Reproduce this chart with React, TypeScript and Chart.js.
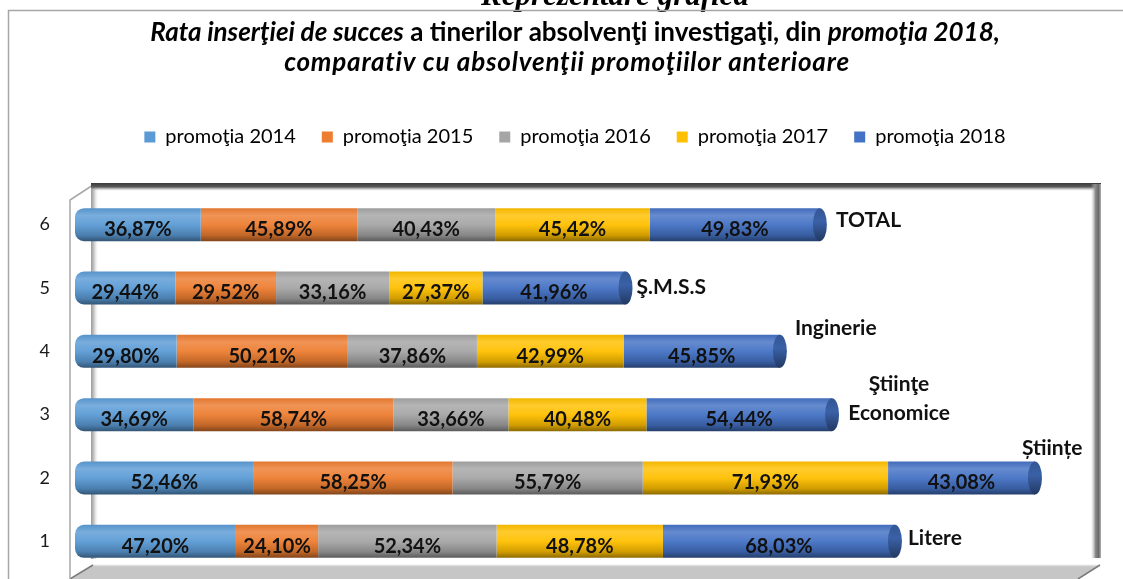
import { useEffect, useRef } from 'react';
import { Chart, registerables } from 'chart.js';

Chart.register(...registerables);

// ---------- data ----------
const categories = ['1', '2', '3', '4', '5', '6'];
const seriesNames = ['promoţia 2014', 'promoţia 2015', 'promoţia 2016', 'promoţia 2017', 'promoţia 2018'];
const p2014 = [47.2, 52.46, 34.69, 29.8, 29.44, 36.87];
const p2015 = [24.1, 58.25, 58.74, 50.21, 29.52, 45.89];
const p2016 = [52.34, 55.79, 33.66, 37.86, 33.16, 40.43];
const p2017 = [48.78, 71.93, 40.48, 42.99, 27.37, 45.42];
const p2018 = [68.03, 43.08, 54.44, 45.85, 41.96, 49.83];
const groupLabels = [['Litere'], ['Științe'], ['Ştiinţe', 'Economice'], ['Inginerie'], ['Ş.M.S.S'], ['TOTAL']];
const xMin = 0;
const xMax = 300;

// ---------- styles ----------
const colors = ['#5B9BD5', '#ED7D31', '#A5A5A5', '#FFC000', '#4472C4'];
const groupLabelPlacement = [
  { dx: 13, dy: -3, align: 'left' },
  { dx: -13, dy: -30, align: 'left' },
  { dx: 67, dy: -30, align: 'center' },
  { dx: 15, dy: -23, align: 'left' },
  { dx: 11, dy: -1, align: 'left' },
  { dx: 16, dy: -4, align: 'left' },
];
const BAR_PCT = 0.52;
const FONT = 'Lato, "Open Sans", sans-serif';

function hexToRgb(hex: string) {
  const h = hex.replace('#', '');
  return [parseInt(h.slice(0, 2), 16), parseInt(h.slice(2, 4), 16), parseInt(h.slice(4, 6), 16)];
}
function shade(hex: string, f: number) {
  const [r, g, b] = hexToRgb(hex);
  const m = (c: number) => Math.round(f >= 0 ? c + (255 - c) * f : c * (1 + f));
  return `rgb(${m(r)},${m(g)},${m(b)})`;
}
function cylGradient(c: CanvasRenderingContext2D, base: string, top: number, bottom: number) {
  const g = c.createLinearGradient(0, top, 0, bottom);
  g.addColorStop(0, shade(base, -0.05));
  g.addColorStop(0.22, shade(base, 0.18));
  g.addColorStop(0.5, shade(base, 0.05));
  g.addColorStop(0.82, shade(base, -0.18));
  g.addColorStop(1, shade(base, -0.45));
  return g;
}
const cylinder = (base: string) => (ctx: any) => {
  const chart = ctx.chart;
  if (!chart.chartArea || ctx.type !== 'data') return base;
  const ys = chart.scales.y;
  const yc = ys.getPixelForValue(ctx.dataIndex);
  const half = (ys.height / categories.length) * BAR_PCT / 2;
  return cylGradient(chart.ctx, base, yc - half, yc + half);
};

const fmt = (v: number) => v.toFixed(2).replace('.', ',') + '%';

// ---------- plugins ----------
const framePlugin = {
  id: 'frame',
  afterLayout(chart: any) {
    // centre the legend row on the chart title axis
    if (chart.legend) chart.legend.left += 44;
  },
  beforeDraw(chart: any) {
    const { ctx, chartArea: a, width, height } = chart;
    ctx.save();
    ctx.fillStyle = '#ffffff';
    ctx.fillRect(0, 0, width, height);

    // document heading (cut off at top)
    ctx.fillStyle = '#000';
    ctx.font = 'italic bold 31px "Liberation Serif", "DejaVu Serif", serif';
    ctx.textAlign = 'center';
    ctx.textBaseline = 'alphabetic';
    ctx.fillText('Reprezentare grafică', 615, 5);

    // outer chart border
    ctx.strokeStyle = '#a6a6a6';
    ctx.lineWidth = 1.5;
    ctx.beginPath();
    ctx.moveTo(8.5, height);
    ctx.lineTo(8.5, 10.5);
    ctx.lineTo(width, 10.5);
    ctx.stroke();

    const fl = a.left - 5;
    const bl = a.left + 18;
    const bt = a.top - 8;
    const ft = a.top + 7;
    const br = a.right - 1;
    const fb = height;
    const bb = a.bottom - 8;
    const fr = a.right - 20;

    // floor
    ctx.fillStyle = '#c6c6c6';
    ctx.beginPath();
    ctx.moveTo(bl, bb);
    ctx.lineTo(br + 3, bb);
    ctx.lineTo(fr, fb);
    ctx.lineTo(fl, fb);
    ctx.closePath();
    ctx.fill();
    ctx.strokeStyle = '#dedede';
    ctx.lineWidth = 1.5;
    ctx.beginPath();
    ctx.moveTo(bl, bb + 0.5);
    ctx.lineTo(br + 3, bb + 0.5);
    ctx.stroke();
    ctx.strokeStyle = '#7a7a7a';
    ctx.lineWidth = 1.5;
    ctx.beginPath();
    ctx.moveTo(fl, fb);
    ctx.lineTo(bl, bb);
    ctx.moveTo(br + 3, bb);
    ctx.lineTo(fr, fb);
    ctx.stroke();

    // left wall
    ctx.strokeStyle = '#a8a8a8';
    ctx.lineWidth = 1.5;
    ctx.beginPath();
    ctx.moveTo(fl, fb);
    ctx.lineTo(fl, ft);
    ctx.lineTo(bl, bt);
    ctx.stroke();

    // back wall left edge
    const gl = ctx.createLinearGradient(bl - 2, 0, bl + 5, 0);
    gl.addColorStop(0, '#9a9a9a');
    gl.addColorStop(0.4, '#c4c4c4');
    gl.addColorStop(1, 'rgba(230,230,230,0)');
    ctx.fillStyle = gl;
    ctx.fillRect(bl - 2, bt, 7, bb - 6 - bt);

    // back wall top edge
    const gt = ctx.createLinearGradient(0, bt - 2, 0, bt + 6);
    gt.addColorStop(0, '#3a3a3a');
    gt.addColorStop(0.5, '#5a5a5a');
    gt.addColorStop(1, 'rgba(200,200,200,0)');
    ctx.fillStyle = gt;
    ctx.fillRect(bl - 2, bt - 2, br - bl + 6, 8);

    // back wall right edge
    const gr = ctx.createLinearGradient(br - 6, 0, br + 4, 0);
    gr.addColorStop(0, 'rgba(200,200,200,0)');
    gr.addColorStop(0.45, '#8a8a8a');
    gr.addColorStop(0.75, '#6a6a6a');
    gr.addColorStop(1, '#b0b0b0');
    ctx.fillStyle = gr;
    ctx.fillRect(br - 6, bt - 1, 10, bb - 6 - bt);
    ctx.restore();
  },
};

const titlePlugin = {
  id: 'richTitle',
  afterDraw(chart: any) {
    const { ctx } = chart;
    const lines = [
      {
        cx: 575,
        y: 33,
        spacing: 0,
        segs: [
          { t: 'Rata inserţiei de succes', f: 'italic bold' },
          { t: ' a tinerilor absolvenţi investigaţi, din ', f: 'bold' },
          { t: 'promoţia 2018,', f: 'italic bold' },
        ],
      },
      {
        cx: 567,
        y: 63,
        spacing: 0.8,
        segs: [{ t: 'comparativ cu absolvenţii promoţiilor anterioare', f: 'italic bold' }],
      },
    ];
    ctx.save();
    ctx.fillStyle = '#000';
    ctx.textBaseline = 'middle';
    ctx.textAlign = 'left';
    lines.forEach((line) => {
      (ctx as any).letterSpacing = `${line.spacing}px`;
      let total = 0;
      line.segs.forEach((s) => {
        ctx.font = `${s.f} 26px ${FONT}`;
        total += ctx.measureText(s.t).width;
      });
      let x = line.cx - total / 2;
      line.segs.forEach((s) => {
        ctx.font = `${s.f} 26px ${FONT}`;
        ctx.fillText(s.t, x, line.y);
        x += ctx.measureText(s.t).width;
      });
    });
    (ctx as any).letterSpacing = '0px';
    ctx.restore();
  },
};

const barDecorPlugin = {
  id: 'barDecor',
  afterDatasetsDraw(chart: any) {
    const { ctx } = chart;
    const n = chart.data.datasets.length;
    ctx.save();
    // end caps of the cylinders
    const last = chart.getDatasetMeta(n - 1);
    last.data.forEach((el: any) => {
      const h = el.height / 2;
      const g = ctx.createLinearGradient(0, el.y - h, 0, el.y + h);
      g.addColorStop(0, shade(colors[n - 1], -0.25));
      g.addColorStop(0.4, shade(colors[n - 1], -0.15));
      g.addColorStop(1, shade(colors[n - 1], -0.5));
      ctx.fillStyle = g;
      ctx.beginPath();
      ctx.ellipse(el.x, el.y, 7, h, 0, 0, Math.PI * 2);
      ctx.fill();
    });
    // value labels
    ctx.fillStyle = '#111';
    ctx.font = `bold 20px ${FONT}`;
    ctx.textAlign = 'center';
    ctx.textBaseline = 'middle';
    chart.data.datasets.forEach((ds: any, di: number) => {
      const meta = chart.getDatasetMeta(di);
      meta.data.forEach((el: any, i: number) => {
        ctx.fillText(fmt(ds.data[i]), (el.x + el.base) / 2, el.y + 5);
      });
    });
    // group labels at the end of each stack
    ctx.font = `bold 21px ${FONT}`;
    last.data.forEach((el: any, i: number) => {
      const p = groupLabelPlacement[i];
      ctx.textAlign = p.align;
      groupLabels[i].forEach((line, li) => {
        ctx.fillText(line, el.x + p.dx, el.y + p.dy + li * 29);
      });
    });
    ctx.restore();
  },
};

const seriesData = [p2014, p2015, p2016, p2017, p2018];

export default function App() {
  const ref = useRef<HTMLCanvasElement | null>(null);
  useEffect(() => {
    document.body.style.margin = '0';
    const canvas = ref.current;
    if (!canvas) return;
    const chart = new Chart(canvas, {
      type: 'bar',
      data: {
        labels: categories,
        datasets: seriesData.map((d, i) => ({
          label: seriesNames[i],
          data: d,
          backgroundColor: cylinder(colors[i]),
          borderWidth: 0,
          borderSkipped: i === 0 ? false : 'start',
          borderRadius: i === 0 ? { topLeft: 9, bottomLeft: 9, topRight: 0, bottomRight: 0 } : 0,
          barPercentage: BAR_PCT,
          categoryPercentage: 1,
        })),
      },
      options: {
        indexAxis: 'y',
        animation: false,
        responsive: true,
        maintainAspectRatio: false,
        layout: { padding: { top: 101, left: 8, right: 25, bottom: 6 } },
        scales: {
          x: {
            type: 'linear',
            position: 'top',
            stacked: true,
            min: xMin,
            max: xMax,
            grid: { display: false, drawTicks: false },
            border: { display: false },
            ticks: { display: false },
            afterFit: (s: any) => {
              s.height = 36;
              s.paddingLeft = 0;
              s.paddingRight = 0;
            },
          },
          y: {
            stacked: true,
            reverse: true,
            grid: { display: false, drawTicks: false },
            border: { display: false },
            ticks: { padding: 25, color: '#1a1a1a', font: { family: FONT, size: 18 } },
            afterFit: (s: any) => {
              s.width = 67;
              s.paddingTop = 0;
              s.paddingBottom = 0;
            },
          },
        },
        plugins: {
          title: { display: false },
          tooltip: { enabled: false },
          legend: {
            position: 'top',
            labels: {
              boxWidth: 11,
              boxHeight: 11,
              padding: 26,
              color: '#1a1a1a',
              font: { family: FONT, size: 20 },
              generateLabels: (c: any) =>
                c.data.datasets.map((ds: any, i: number) => ({
                  text: ds.label,
                  fillStyle: colors[i],
                  strokeStyle: colors[i],
                  lineWidth: 0,
                  hidden: false,
                  datasetIndex: i,
                })),
            },
          },
        },
      },
      plugins: [framePlugin, titlePlugin, barDecorPlugin],
    } as any);
    return () => chart.destroy();
  }, []);
  return (
    <div style={{ width: 1123, height: 579, position: 'relative' }}>
      <canvas ref={ref} />
    </div>
  );
}
